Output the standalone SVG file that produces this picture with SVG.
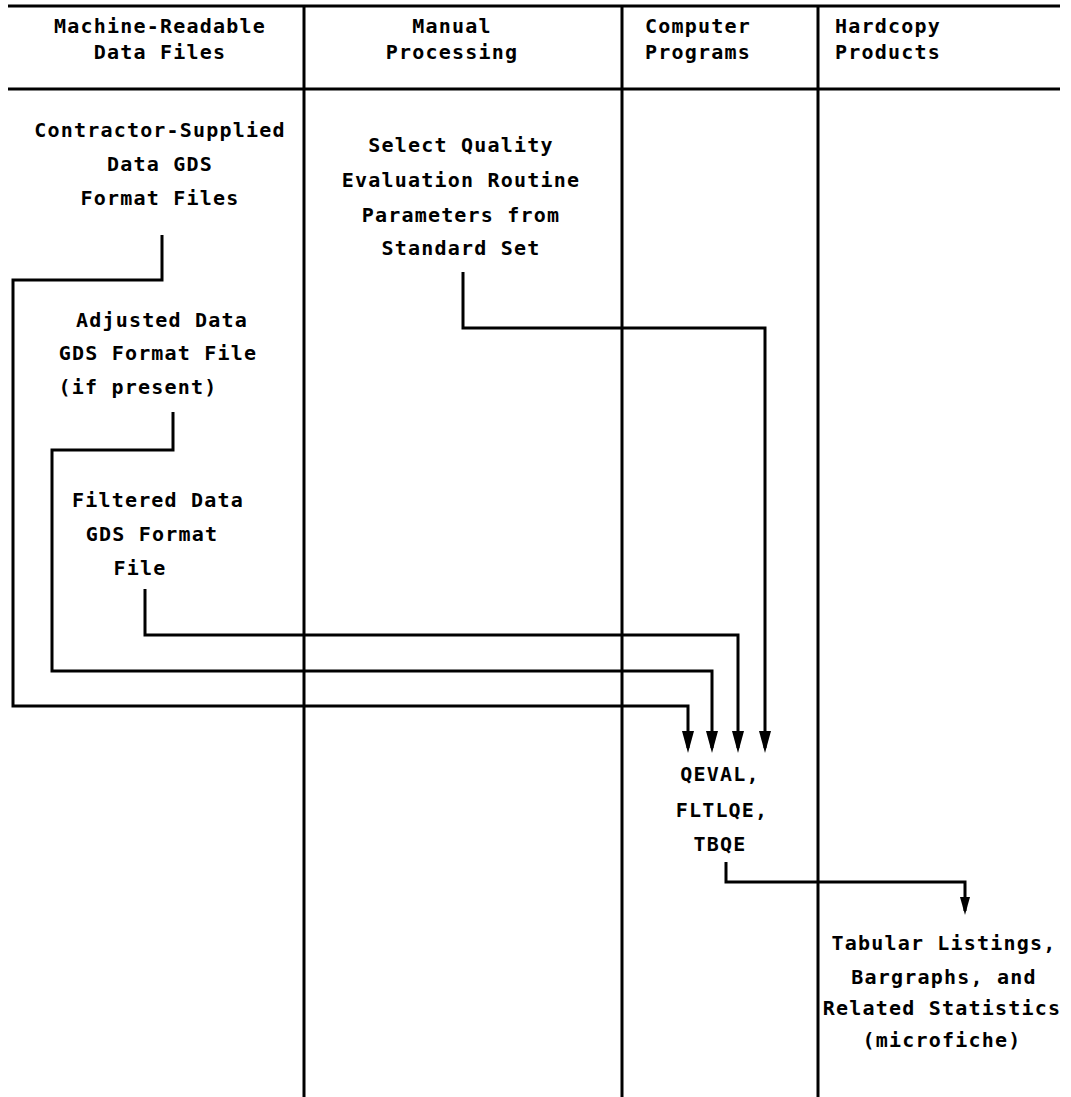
<svg xmlns="http://www.w3.org/2000/svg" width="1071" height="1097" viewBox="0 0 1071 1097">
  <style>
    .t { font-family: "DejaVu Sans Mono", "Liberation Mono", monospace; font-weight: bold; font-size: 20px; letter-spacing: 1.2px; fill: #000; text-anchor: middle; }
    .rule { stroke: #000; stroke-width: 3; fill: none; }
    .conn { stroke: #000; stroke-width: 3; fill: none; }
  </style>
  <defs>
    <marker id="arr" markerUnits="userSpaceOnUse" markerWidth="22" markerHeight="12" refX="17" refY="6" orient="auto">
      <path d="M0,0 L22,6 L0,12 z" fill="#000"/>
    </marker>
    <marker id="arrS" markerUnits="userSpaceOnUse" markerWidth="18" markerHeight="10" refX="14" refY="5" orient="auto">
      <path d="M0,0 L18,5 L0,10 z" fill="#000"/>
    </marker>
  </defs>
  <rect width="1071" height="1097" fill="#fff"/>

  <g id="grid">
    <line class="rule" x1="8" y1="6" x2="1060" y2="6"/>
    <line class="rule" x1="8" y1="89" x2="1060" y2="89"/>
    <line class="rule" x1="304" y1="6" x2="304" y2="1097"/>
    <line class="rule" x1="622" y1="6" x2="622" y2="1097"/>
    <line class="rule" x1="818" y1="6" x2="818" y2="1097"/>
  </g>

  <g id="header">
    <text class="t" x="160" y="33">Machine-Readable</text>
    <text class="t" x="160" y="59">Data Files</text>
    <text class="t" x="452" y="33">Manual</text>
    <text class="t" x="452" y="59">Processing</text>
    <text class="t" x="698" y="33">Computer</text>
    <text class="t" x="698" y="59">Programs</text>
    <text class="t" x="888" y="33">Hardcopy</text>
    <text class="t" x="888" y="59">Products</text>
  </g>

  <g id="node-contractor">
    <text class="t" x="160" y="137">Contractor-Supplied</text>
    <text class="t" x="160" y="171">Data GDS</text>
    <text class="t" x="160" y="205">Format Files</text>
  </g>

  <g id="node-select">
    <text class="t" x="461" y="152">Select Quality</text>
    <text class="t" x="461" y="187">Evaluation Routine</text>
    <text class="t" x="461" y="222">Parameters from</text>
    <text class="t" x="461" y="255">Standard Set</text>
  </g>

  <g id="node-adjusted">
    <text class="t" x="162" y="327">Adjusted Data</text>
    <text class="t" x="158" y="360">GDS Format File</text>
    <text class="t" x="138" y="394">(if present)</text>
  </g>

  <g id="node-filtered">
    <text class="t" x="158" y="507">Filtered Data</text>
    <text class="t" x="152" y="541">GDS Format</text>
    <text class="t" x="140" y="575">File</text>
  </g>

  <g id="node-programs">
    <text class="t" x="720" y="781">QEVAL,</text>
    <text class="t" x="722" y="817">FLTLQE,</text>
    <text class="t" x="720" y="851">TBQE</text>
  </g>

  <g id="node-products">
    <text class="t" x="944" y="950">Tabular Listings,</text>
    <text class="t" x="944" y="984">Bargraphs, and</text>
    <text class="t" x="942" y="1015">Related Statistics</text>
    <text class="t" x="942" y="1047">(microfiche)</text>
  </g>

  <g id="connectors">
    <path class="conn" d="M162,235 V280 H13 V706 H688 V748" marker-end="url(#arr)"/>
    <path class="conn" d="M173,412 V450 H52 V671 H712 V748" marker-end="url(#arr)"/>
    <path class="conn" d="M145,589 V635 H738 V748" marker-end="url(#arr)"/>
    <path class="conn" d="M463,272 V328 H765 V748" marker-end="url(#arr)"/>
    <path class="conn" d="M726,862 V882 H965 V911" marker-end="url(#arrS)"/>
  </g>
</svg>
